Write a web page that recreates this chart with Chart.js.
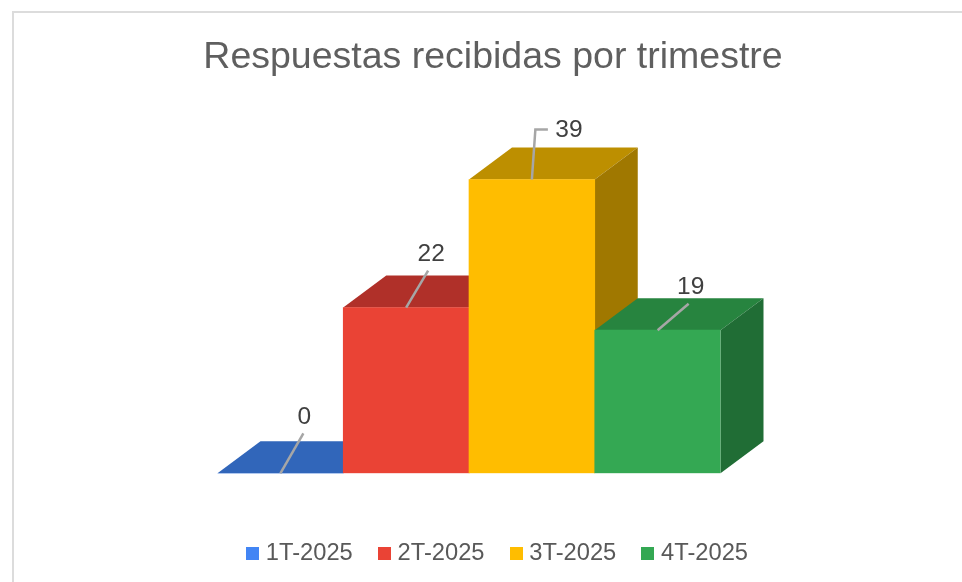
<!DOCTYPE html>
<html>
<head>
<meta charset="utf-8">
<style>
html,body{margin:0;padding:0;background:#fff;width:962px;height:582px;overflow:hidden}
#frame{position:absolute;left:12px;top:11px;right:0;bottom:0;border-top:2px solid #dcdcdc;border-left:2px solid #dcdcdc}
canvas{position:absolute;left:0;top:0}
</style>
<script src="https://cdn.jsdelivr.net/npm/chart.js@4/dist/chart.umd.min.js"></script>
</head>
<body>
<div id="frame"></div>
<canvas id="c" width="962" height="582"></canvas>
<script>
const categories = ['1T-2025', '2T-2025', '3T-2025', '4T-2025'];
const responses = [0, 22, 39, 19];
const frontColors = ['#4285f4', '#ea4335', '#ffbd00', '#34a853'];
const topColors = ['#3166ba', '#b03029', '#bd8f00', '#27843f'];
const sideColors = ['#27508f', '#8f2820', '#a07800', '#206d35'];
const leaderOffsets = [[[23, -40]], [[22, -37]], [[3.5, -50], [16, -50]], [[31, -26.5]]];
const labelOffsets = [[24, -56], [25, -53], [37, -49], [33, -43]];
const depthX = 43, depthY = -32;

function swatch(color) {
  const s = document.createElement('canvas');
  s.width = 13; s.height = 13;
  const g = s.getContext('2d');
  g.fillStyle = color;
  g.fillRect(0, 0, 13, 13);
  return s;
}

const solid3d = {
  id: 'solid3d',
  afterLayout(chart) {
    chart.legend.top = 512;
    chart.legend.bottom = 594;
    chart.legend.left += 6.5;
    chart.legend.right += 6.5;
  },
  beforeDatasetsDraw(chart) {
    const ctx = chart.ctx;
    const y0 = chart.scales.y.getPixelForValue(0);
    chart.getDatasetMeta(0).data.forEach((bar, i) => {
      const l = bar.x - bar.width / 2, r = bar.x + bar.width / 2, t = bar.y;
      ctx.fillStyle = topColors[i];
      ctx.beginPath();
      ctx.moveTo(l, t); ctx.lineTo(l + depthX, t + depthY);
      ctx.lineTo(r + depthX, t + depthY); ctx.lineTo(r, t);
      ctx.closePath(); ctx.fill();
      ctx.fillStyle = sideColors[i];
      ctx.beginPath();
      ctx.moveTo(r, t); ctx.lineTo(r + depthX, t + depthY);
      ctx.lineTo(r + depthX, y0 + depthY); ctx.lineTo(r, y0);
      ctx.closePath(); ctx.fill();
    });
  },
  afterDatasetsDraw(chart) {
    const ctx = chart.ctx;
    ctx.save();
    chart.getDatasetMeta(0).data.forEach((bar, i) => {
      ctx.strokeStyle = '#a6a6a6';
      ctx.lineWidth = 2.5;
      ctx.beginPath();
      ctx.moveTo(bar.x, bar.y);
      leaderOffsets[i].forEach(p => ctx.lineTo(bar.x + p[0], bar.y + p[1]));
      ctx.stroke();
      ctx.fillStyle = '#404040';
      ctx.font = '24.5px "Liberation Sans"';
      ctx.textAlign = 'center';
      ctx.textBaseline = 'middle';
      ctx.fillText(String(responses[i]), bar.x + labelOffsets[i][0], bar.y + labelOffsets[i][1]);
    });
    ctx.restore();
  }
};

const hiddenAxis = (width, position) => ({
  position, min: 0, max: 40, display: true,
  grid: { display: false }, border: { display: false }, ticks: { display: false },
  afterFit(s) { s.width = width; }
});

new Chart(document.getElementById('c'), {
  type: 'bar',
  data: {
    labels: categories,
    datasets: [{ data: responses, backgroundColor: frontColors, categoryPercentage: 1, barPercentage: 1, borderWidth: 0 }]
  },
  plugins: [solid3d],
  options: {
    responsive: false,
    animation: false,
    layout: { padding: { left: 24, right: 0, top: 0, bottom: 0 } },
    scales: {
      x: {
        display: true,
        grid: { display: false }, border: { display: false }, ticks: { display: false },
        afterFit(s) { s.height = 45; }
      },
      y: hiddenAxis(193.5, 'left'),
      y2: hiddenAxis(241.5, 'right')
    },
    plugins: {
      tooltip: { enabled: false },
      title: {
        display: true,
        text: 'Respuestas recibidas por trimestre',
        color: '#5f5f5f',
        font: { family: '"Liberation Sans"', size: 37.5, weight: 'normal', lineHeight: 1.2 },
        padding: { top: 35, bottom: 92 }
      },
      legend: {
        display: true,
        position: 'bottom',
        labels: {
          color: '#595959',
          font: { family: '"Liberation Sans"', size: 23.7 },
          usePointStyle: true,
          pointStyleWidth: 3,
          padding: 30,
          generateLabels() {
            return categories.map((c, i) => ({
              text: c, fontColor: '#595959', pointStyle: swatch(frontColors[i]),
              fillStyle: frontColors[i], strokeStyle: frontColors[i], lineWidth: 0, index: i
            }));
          }
        }
      }
    }
  }
});
</script>
</body>
</html>
